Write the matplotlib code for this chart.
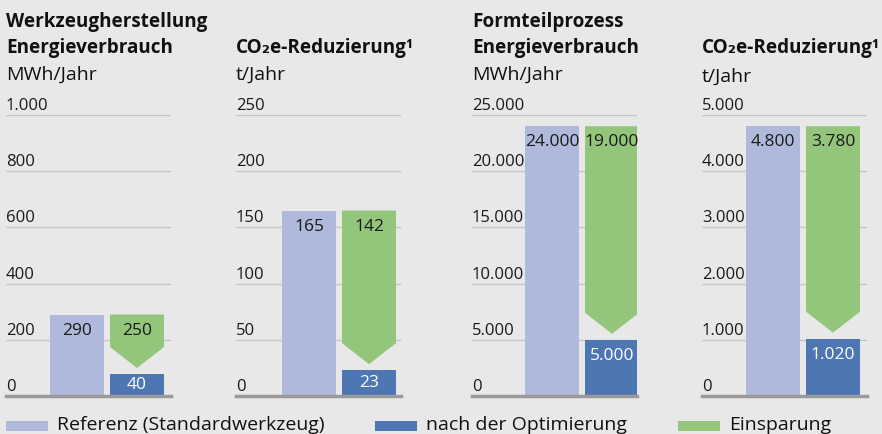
import matplotlib
matplotlib.use("Agg")
import matplotlib.pyplot as plt
from matplotlib.patches import Polygon, Rectangle
import matplotlib.transforms as mtransforms

# data
titles = [["Werkzeugherstellung", "Energieverbrauch"], ["CO₂e-Reduzierung¹"],
          ["Formteilprozess", "Energieverbrauch"], ["CO₂e-Reduzierung¹"]]
units = ["MWh/Jahr", "t/Jahr", "MWh/Jahr", "t/Jahr"]
ymax = [1000, 250, 25000, 5000]
ystep = [200, 50, 5000, 1000]
referenz = [290, 165, 24000, 4800]
optimiert = [40, 23, 5000, 1020]
einsparung = [250, 142, 19000, 3780]
legend_labels = ["Referenz (Standardwerkzeug)", "nach der Optimierung", "Einsparung"]

C_REF = "#aeb9dc"
C_OPT = "#4d76b2"
C_SAV = "#93c67b"
BG = "#e8e8e8"
FONT = ["Open Sans", "DejaVu Sans"]
W, H = 882, 434

plt.rcParams["font.family"] = FONT

def de(v):
    return f"{v:,}".replace(",", ".")

fig = plt.figure(figsize=(W / 100, H / 100), dpi=100, facecolor=BG)

lefts = [6, 236, 472, 702]
bar_start = [44, 46, 53, 44]   # px from axis left to first bar
ax_w, ax_h, ax_bottom = 165, 281, 396
title_top = [[22, 48], [48], [22, 48], [48]]
unit_y = [75, 75, 75, 77]

for i in range(4):
    ax = fig.add_axes([lefts[i] / W, 1 - ax_bottom / H, ax_w / W, ax_h / H])
    ax.set_facecolor("none")
    x0 = -(bar_start[i] + 27) / 60
    ax.set_xlim(x0, x0 + ax_w / 60)
    ax.set_ylim(0, ymax[i])
    for s in ax.spines.values():
        s.set_visible(False)
    ax.set_xticks([])
    ax.set_yticks([])
    px = ymax[i] / ax_h

    trans = mtransforms.blended_transform_factory(ax.transAxes, ax.transData)
    for v in range(0, ymax[i] + 1, ystep[i]):
        if v == 0:
            ax.axhline(0, color="#9a9a9a", lw=2.5, zorder=3, clip_on=False)
        else:
            ax.axhline(v, color="#c6c6c6", lw=1, zorder=0)
        ax.text(0, v + 5 * px, de(v), transform=trans, ha="left", va="baseline",
                fontsize=12, color="#1a1a1a")

    # reference bar
    ax.bar(0, referenz[i], width=0.9, color=C_REF, zorder=2)
    ax.text(0, referenz[i] - 16 * px, de(referenz[i]), ha="center", va="center",
            fontsize=12.5, color="#1a1a1a", zorder=4)

    # optimised bar (min height so the label fits)
    h_opt = max(optimiert[i], 22 * px)
    ax.bar(1, h_opt, width=0.9, color=C_OPT, zorder=2)
    off = min(16 * px, h_opt / 2)
    ax.text(1, h_opt - off, de(optimiert[i]), ha="center", va="center",
            fontsize=12.5, color="white", zorder=4)

    # savings arrow
    tip = h_opt + 6 * px
    shoulder = tip + 21 * px
    top = referenz[i]
    arrow = Polygon([(0.55, top), (1.45, top), (1.45, shoulder), (1, tip),
                     (0.55, shoulder)], closed=True, color=C_SAV, zorder=2, lw=0)
    ax.add_patch(arrow)
    ax.text(1, top - 16 * px, de(einsparung[i]), ha="center", va="center",
            fontsize=12.5, color="#1a1a1a", zorder=4)

    for t, yy in zip(titles[i], title_top[i]):
        fig.text(lefts[i] / W, 1 - yy / H, t, ha="left", va="center",
                 fontsize=13.6, fontweight="bold", color="#111111")
    fig.text(lefts[i] / W, 1 - unit_y[i] / H, units[i], ha="left", va="center",
             fontsize=14, color="#111111")

# legend
leg_x = [6, 375, 678]
leg_colors = [C_REF, C_OPT, C_SAV]
for x, c, lab in zip(leg_x, leg_colors, legend_labels):
    fig.patches.append(Rectangle((x / W, 1 - 431 / H), 42 / W, 10 / H,
                                 transform=fig.transFigure, color=c, lw=0))
    fig.text((x + 51) / W, 1 - 425 / H, lab, ha="left", va="center",
             fontsize=14, color="#111111")

fig.savefig("out.png", dpi=100, facecolor=BG)
